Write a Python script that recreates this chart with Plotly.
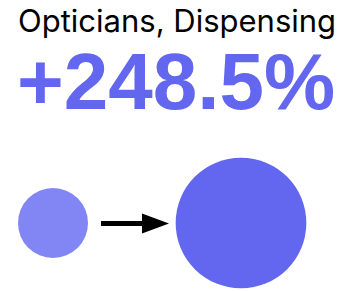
import plotly.graph_objects as go

# data
occupation = "Opticians, Dispensing"
period_labels = ["Before", "After"]
employment_index = [100.0, 348.5]  # relative size (after = +248.5%)
pct_change = (employment_index[1] / employment_index[0] - 1) * 100

W, H = 345, 291
cx = [53, 241]
cy = 223
base_diam = 70
sizeref = 2 * employment_index[0] / (base_diam ** 2)

fig = go.Figure()
fig.add_trace(go.Scatter(
    x=cx, y=[cy, cy], mode="markers",
    text=period_labels,
    marker=dict(size=employment_index, sizemode="area", sizeref=sizeref,
                color=["#8285F4", "#6366EE"], opacity=1,
                line=dict(width=0)),
    hoverinfo="text", showlegend=False,
))

# arrow (decoration) between the circles
ax0, ax1, head_len, head_half, ay = 101, 169, 27, 10, 223.5
fig.add_shape(type="line", x0=ax0, x1=ax1 - head_len + 1, y0=ay, y1=ay,
              line=dict(color="#000000", width=5))
fig.add_shape(type="path",
              path=f"M{ax1 - head_len},{ay - head_half} L{ax1},{ay} L{ax1 - head_len},{ay + head_half} Z",
              fillcolor="#000000", line=dict(width=0))

fig.add_annotation(x=16 / W, y=1, xref="paper", yref="paper", xanchor="left", yanchor="top",
                   text=occupation, showarrow=False,
                   font=dict(family="Inter", size=31, color="#000000"))
fig.add_annotation(x=15 / W, y=1 - 35 / H, xref="paper", yref="paper", xanchor="left", yanchor="top",
                   text=f"+{pct_change:.1f}%", showarrow=False,
                   font=dict(family="Liberation Sans, Arial", size=80, color="#6366EE", weight="bold"))

fig.update_xaxes(range=[0, W], visible=False, fixedrange=True)
fig.update_yaxes(range=[H, 0], visible=False, fixedrange=True)
fig.update_layout(width=W, height=H, margin=dict(l=0, r=0, t=0, b=0),
                  paper_bgcolor="white", plot_bgcolor="white")
fig.write_html("out.html", config={"displayModeBar": False},
               post_script="document.body.style.margin='0';")
